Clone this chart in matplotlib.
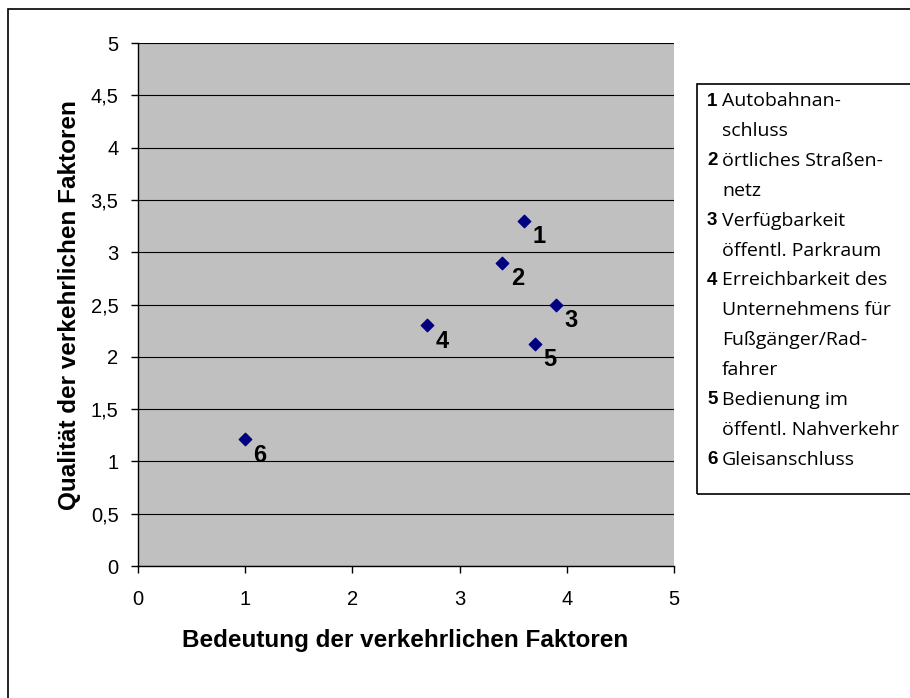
import matplotlib.pyplot as plt
from matplotlib.patches import Rectangle

# data
labels = ["1", "2", "3", "4", "5", "6"]
bedeutung = [3.6, 3.4, 3.9, 2.7, 3.7, 1.0]
qualitaet = [3.3, 2.9, 2.5, 2.3, 2.12, 1.21]

legend_lines = [
    ("1", "Autobahnan-"), ("", "schluss"),
    ("2", "örtliches Straßen-"), ("", "netz"),
    ("3", "Verfügbarkeit"), ("", "öffentl. Parkraum"),
    ("4", "Erreichbarkeit des"), ("", "Unternehmens für"),
    ("", "Fußgänger/Rad-"), ("", "fahrer"),
    ("5", "Bedienung im"), ("", "öffentl. Nahverkehr"),
    ("6", "Gleisanschluss"),
]

W, H = 910, 698
plt.rcParams['font.family'] = ['Liberation Sans', 'DejaVu Sans']

fig = plt.figure(figsize=(W / 100, H / 100), dpi=100)
ax = fig.add_axes([138 / W, 1 - 566 / H, (674 - 138) / W, (566 - 43) / H])

ax.set_facecolor("#c0c0c0")
ax.scatter(bedeutung, qualitaet, marker="D", s=40, color="#000080", zorder=3)
for lab, x, y in zip(labels, bedeutung, qualitaet):
    ax.annotate(lab, (x, y), xytext=(6, -3), textcoords="offset points",
                ha="left", va="top", fontsize=17, fontweight="bold")

ax.set_xlim(0, 5)
ax.set_ylim(0, 5)
ax.set_xticks([0, 1, 2, 3, 4, 5])
ax.set_yticks([0, 0.5, 1, 1.5, 2, 2.5, 3, 3.5, 4, 4.5, 5])
ax.set_yticklabels(["0", "0,5", "1", "1,5", "2", "2,5", "3", "3,5", "4", "4,5", "5"])
ax.tick_params(labelsize=14.5, direction="out", length=5, width=1, pad=9)
ax.tick_params(axis="x", pad=12)
ax.grid(axis="y", color="black", linewidth=0.8)
ax.set_axisbelow(True)
for s in ["top", "right"]:
    ax.spines[s].set_visible(False)
for s in ["left", "bottom"]:
    ax.spines[s].set_linewidth(1)

fig.text(405 / W, 1 - 641 / H, "Bedeutung der verkehrlichen Faktoren",
         ha="center", va="center", fontsize=17.5, fontweight="bold")
fig.text(70 / W, 1 - 305 / H, "Qualität der verkehrlichen Faktoren",
         ha="center", va="center", rotation=90, fontsize=17.5, fontweight="bold")

# outer chart frame (top and left edges visible)
fig.add_artist(Rectangle((8 / W, -0.1), 1.1, 1 - 9 / H + 0.1, transform=fig.transFigure,
                         fill=False, edgecolor="black", linewidth=1.2))

# legend box, cut at the right edge
fig.add_artist(Rectangle((697 / W, 1 - 494 / H), 0.3, (494 - 84) / H,
                         transform=fig.transFigure, fill=False,
                         edgecolor="black", linewidth=1.2))
y0 = 101
for i, (num, txt) in enumerate(legend_lines):
    yy = 1 - (y0 + i * 29.9) / H
    if num:
        fig.text(707 / W, yy, num, ha="left", va="center", fontsize=13.5, fontweight="bold")
    fig.text(722 / W, yy, txt, ha="left", va="center", fontsize=14,
             family=["Open Sans", "DejaVu Sans"])

fig.savefig("out.png", dpi=100)
